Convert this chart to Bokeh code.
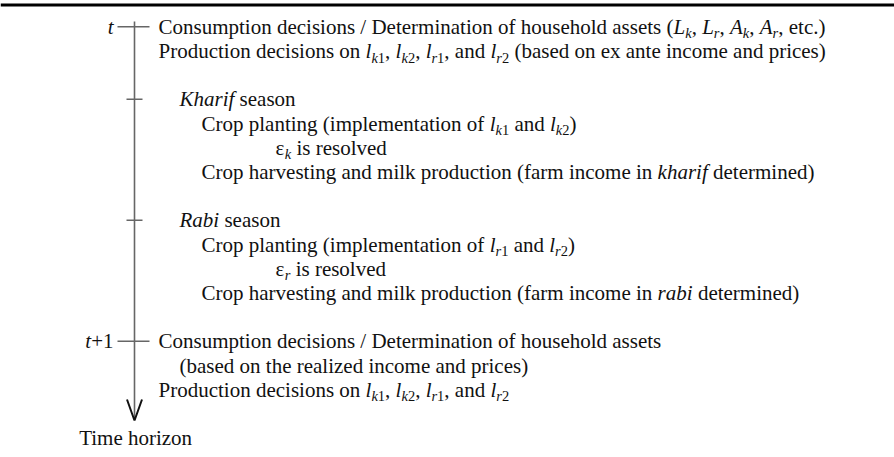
from bokeh.plotting import figure
from bokeh.models import Range1d, ColumnDataSource
from bokeh.core.properties import value
from bokeh.embed import file_html
from bokeh.resources import INLINE

# ---------------- content ----------------
# markup: *...* = italic, _{..} = subscript (letters italic, digits roman)
line_slots = [0, 1, 3, 4, 5, 6, 8, 9, 10, 11, 13, 14, 15]
line_levels = [0, 0, 1, 2, 3, 2, 1, 2, 3, 2, 0, 1, 0]
line_texts = [
    "Consumption decisions / Determination of household assets (*L*_{k}, *L*_{r}, *A*_{k}, *A*_{r}, etc.)",
    "Production decisions on *l*_{k1}, *l*_{k2}, *l*_{r1}, and *l*_{r2} (based on ex ante income and prices)",
    "*Kharif* season",
    "Crop planting (implementation of *l*_{k1} and *l*_{k2})",
    "\u03b5_{k} is resolved",
    "Crop harvesting and milk production (farm income in *kharif* determined)",
    "*Rabi* season",
    "Crop planting (implementation of *l*_{r1} and *l*_{r2})",
    "\u03b5_{r} is resolved",
    "Crop harvesting and milk production (farm income in *rabi* determined)",
    "Consumption decisions / Determination of household assets",
    "(based on the realized income and prices)",
    "Production decisions on *l*_{k1}, *l*_{k2}, *l*_{r1}, and *l*_{r2}",
]
tick_slots = [0, 3, 8, 13]
tick_kinds = ["major", "minor", "minor", "major"]
tick_labels = ["*t*", "", "", "*t*+1"]
axis_title = "Time horizon"
axis_title_slot = 17

# ---------------- layout ----------------
W, H = 894, 457
TOP, STEP = 26.2, 24.2
AXIS_X = 134
AXIS_TOP = 21
ARROW_TIP = 420
LEVEL_X = [158, 179, 201, 275]
FS, SUB_FS, SUB_DROP = 21.0, 14.5, 4.5
MID = 0.3375          # em-box middle above the alphabetic baseline (Times metrics)
FONT = "Liberation Serif"

ROMAN = {' ': 250, '(': 333, ')': 333, ',': 250, '.': 250, '/': 278, '+': 564,
         '0': 500, '1': 500, '2': 500, 'A': 722, 'C': 667, 'D': 722, 'K': 722,
         'L': 611, 'P': 556, 'R': 667, 'T': 611,
         'a': 444, 'b': 500, 'c': 444, 'd': 500, 'e': 444, 'f': 333, 'g': 500,
         'h': 500, 'i': 278, 'j': 278, 'k': 500, 'l': 278, 'm': 778, 'n': 500,
         'o': 500, 'p': 500, 'q': 500, 'r': 333, 's': 389, 't': 278, 'u': 500,
         'v': 500, 'w': 722, 'x': 500, 'y': 500, 'z': 444, '\u03b5': 440}
ITALIC = {' ': 250, '(': 333, ')': 333, ',': 250, '.': 250, '+': 675,
          '1': 500, '2': 500, 'A': 611, 'K': 667, 'L': 556, 'R': 611,
          'a': 500, 'b': 500, 'c': 444, 'd': 500, 'e': 444, 'f': 278, 'h': 500,
          'i': 278, 'k': 444, 'l': 278, 'm': 722, 'n': 500, 'o': 500, 'r': 389,
          's': 389, 't': 278}


def parse(markup):
    """Return list of (text, italic, sub) runs."""
    runs = []
    italic = False
    i = 0
    while i < len(markup):
        ch = markup[i]
        if ch == '*':
            italic = not italic
            i += 1
            continue
        if markup.startswith('_{', i):
            j = markup.index('}', i)
            for c in markup[i + 2:j]:
                runs.append((c, c.isalpha(), True))
            i = j + 1
            continue
        runs.append((ch, italic, False))
        i += 1
    merged = []
    for c, it, sb in runs:
        if merged and merged[-1][1] == it and merged[-1][2] == sb:
            merged[-1] = (merged[-1][0] + c, it, sb)
        else:
            merged.append((c, it, sb))
    return merged


def width(text, italic, sub):
    table = ITALIC if italic else ROMAN
    size = SUB_FS if sub else FS
    return sum(table.get(c, 500) for c in text) * size / 1000.0


groups = {(it, sb): dict(x=[], y=[], text=[]) for it in (False, True) for sb in (False, True)}
SUB_SHIFT = MID * (FS - SUB_FS) + SUB_DROP


def place(markup, x, ymid, align="left"):
    runs = parse(markup)
    total = sum(width(t, it, sb) for t, it, sb in runs)
    if align == "right":
        x -= total
    elif align == "center":
        x -= total / 2.0
    for t, it, sb in runs:
        stripped = t.lstrip(' ')
        lead = width(t[:len(t) - len(stripped)], it, sb)
        if stripped:
            g = groups[(it, sb)]
            g['x'].append(x + lead)
            g['y'].append(ymid + (SUB_SHIFT if sb else 0))
            g['text'].append(stripped)
        x += width(t, it, sb)


def slot_y(s):
    return TOP + STEP * s


for s, lv, txt in zip(line_slots, line_levels, line_texts):
    place(txt, LEVEL_X[lv], slot_y(s))

for s, lab in zip(tick_slots, tick_labels):
    if lab:
        place(lab, 113, slot_y(s), align="right")

place(axis_title, AXIS_X + 1.5, slot_y(axis_title_slot), align="center")

# ---------------- figure ----------------
p = figure(width=W, height=H, x_range=Range1d(0, W), y_range=Range1d(H, 0),
           output_backend="svg", toolbar_location=None, min_border=0,
           x_axis_type=None, y_axis_type=None)
p.grid.visible = False
p.outline_line_color = None
p.background_fill_color = "white"
p.border_fill_color = "white"

# top rule
p.line([0, W], [4.5, 4.5], line_color="black", line_width=3)

# axis shaft
p.line([AXIS_X, AXIS_X], [AXIS_TOP, ARROW_TIP - 1], line_color="#666666", line_width=1.6)
# arrow head
p.line([AXIS_X - 7.5, AXIS_X, AXIS_X + 7.5], [ARROW_TIP - 21, ARROW_TIP, ARROW_TIP - 21],
       line_color="#111111", line_width=2)

# ticks
tx0, tx1, ty = [], [], []
for s, k in zip(tick_slots, tick_kinds):
    y = slot_y(s)
    if k == "major":
        tx0.append(AXIS_X - 17); tx1.append(AXIS_X + 15)
    else:
        tx0.append(AXIS_X - 8); tx1.append(AXIS_X + 8)
    ty.append(y)
p.segment(x0=tx0, y0=ty, x1=tx1, y1=ty, line_color="#666666", line_width=1.4)

for (it, sb), g in groups.items():
    if not g['text']:
        continue
    src = ColumnDataSource(g)
    p.text(x='x', y='y', text='text', source=src,
           text_font=value(FONT),
           text_font_size="%.1fpx" % (SUB_FS if sb else FS),
           text_font_style="italic" if it else "normal",
           text_align="left", text_baseline="middle",
           text_color="#111111")

html = file_html(p, INLINE)
html = html.replace("<head>", "<head><style>html,body{margin:0;padding:0;}</style>", 1)
open("out.html", "w").write(html)
